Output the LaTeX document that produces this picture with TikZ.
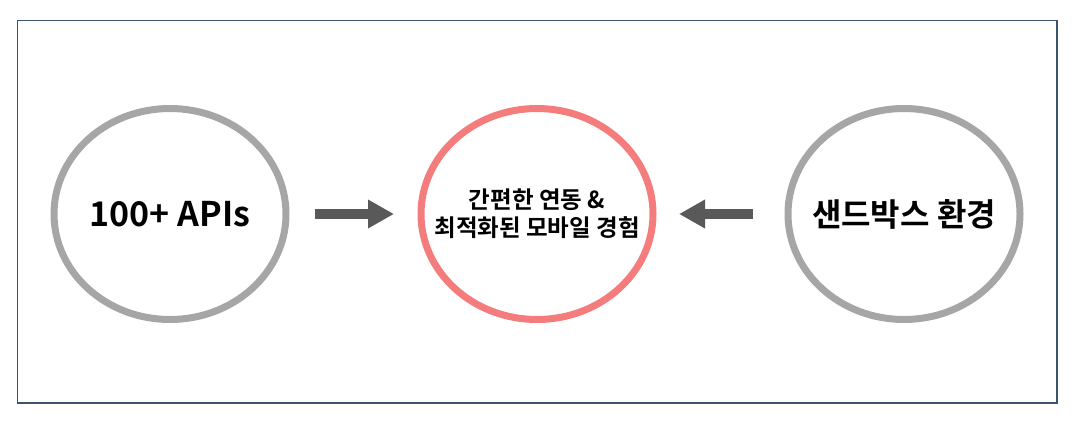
\documentclass[tikz,border=0pt]{standalone}
\usepackage{fontspec}
\setmainfont{Noto Sans CJK KR}
\newfontfamily\krbold{Noto Sans CJK KR Bold}
\usetikzlibrary{shapes.geometric, arrows.meta}
\definecolor{framecol}{HTML}{3A5470}
\definecolor{ringgray}{HTML}{A6A6A6}
\definecolor{ringred}{HTML}{F47C7C}
\definecolor{arrowgray}{HTML}{595959}

\begin{document}
\begin{tikzpicture}[x=1pt, y=-1pt,
    ring_node/.style={ellipse, draw=ringgray, line width=7pt, minimum width=232pt, minimum height=211pt, inner sep=0pt},
    ring_text/.style={font=\krbold\fontsize{#1}{28}\selectfont, align=center},
    big_arrow/.style={arrowgray, line width=10pt, -{Triangle[length=26pt, width=27pt]}}]
				\useasboundingbox (0,0) rectangle (1086,428);
				\draw[framecol, line width=1.5pt] (17.5,20.5) rectangle (1057,403);
				\node[ring_node, label={[ring_text=34]center:100+ APIs}](api) at (170,214){};
				\node[ring_node, draw=ringred, label={[ring_text=23.5]center:간편한 연동 \&\\최적화된 모바일 경험}](mobile) at (537,214){};
				\node[ring_node, label={[ring_text=32]center:샌드박스 환경}](sandbox) at (904,214){};
				\draw[big_arrow, shorten <=25.5pt, shorten >=23.5pt](api) -- (mobile);
				\draw[big_arrow, shorten <=31.5pt, shorten >=22.5pt](sandbox) -- (mobile);
			\end{tikzpicture}
\end{document}
